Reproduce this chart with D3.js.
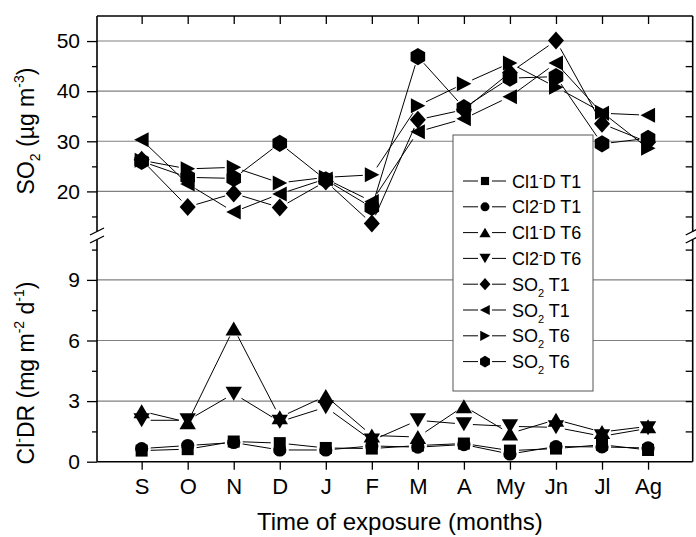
<!DOCTYPE html>
<html><head><meta charset="utf-8">
<script src="https://cdn.jsdelivr.net/npm/d3@7"></script>
<style>
body{margin:0;background:#fff;}
svg{display:block;font-family:"Liberation Sans",Arial,sans-serif;}
</style>
</head><body>
<svg id="c" width="696" height="537"></svg>
<script>
// ---------- data ----------
const months = ["S","O","N","D","J","F","M","A","My","Jn","Jl","Ag"];
// bottom panel: Cl- deposition rate (mg m-2 d-1)
const cl1T1 = [0.55,0.62,1.00,0.92,0.68,0.65,0.80,0.90,0.55,0.65,0.84,0.58];
const cl2T1 = [0.65,0.80,0.95,0.58,0.58,0.78,0.72,0.85,0.38,0.75,0.73,0.68];
const cl1T6 = [2.50,1.95,6.60,2.20,3.25,1.30,1.22,2.75,1.40,2.08,1.47,1.75];
const cl2T6 = [2.05,2.05,3.37,1.98,2.70,1.05,2.05,1.86,1.75,1.70,1.26,1.65];
// top panel: SO2 (ug m-3)
const so2T1a = [26.3,16.9,19.6,16.8,22.0,13.6,34.3,36.3,43.7,50.1,33.5,29.8];
const so2T1b = [30.3,21.5,15.9,19.5,22.5,18.0,31.9,34.5,38.9,45.6,35.6,35.2];
const so2T6a = [26.2,24.5,24.8,21.7,22.8,23.3,37.1,41.5,45.6,40.8,35.8,28.6];
const so2T6b = [26.0,22.8,22.6,29.6,22.3,16.8,46.9,36.7,42.6,42.9,29.5,30.6];
const topTicks = [20,30,40,50];
const topMinor = [15,25,35,45];
const botTicks = [0,3,6,9];
const botMinor = [1.5,4.5,7.5,10.5];

// ---------- layout ----------
const L = 97, R = 692.7, T = 16, B = 461.7;
const svg = d3.select("#c");
const x = d3.scalePoint().domain(months).range([L, R]).padding(0.97);
const yTop = d3.scaleLinear().domain([12, 55]).range([231.5, T]);
const yBot = d3.scaleLinear().domain([0, 11]).range([B, 239.5]);

const series = [
  {label:["Cl1","-","D T1"], type:"sup", vals:cl1T1, sym:"square", panel:"bot"},
  {label:["Cl2","-","D T1"], type:"sup", vals:cl2T1, sym:"circle", panel:"bot"},
  {label:["Cl1","-","D T6"], type:"sup", vals:cl1T6, sym:"up", panel:"bot"},
  {label:["Cl2","-","D T6"], type:"sup", vals:cl2T6, sym:"down", panel:"bot"},
  {label:["SO","2"," T1"], type:"sub", vals:so2T1a, sym:"diamond", panel:"top"},
  {label:["SO","2"," T1"], type:"sub", vals:so2T1b, sym:"left", panel:"top"},
  {label:["SO","2"," T6"], type:"sub", vals:so2T6a, sym:"right", panel:"top"},
  {label:["SO","2"," T6"], type:"sub", vals:so2T6b, sym:"hex", panel:"top"}
];

function symPath(sym, k){
  k = k || 1;
  const p = d3.path();
  const pts = (arr)=>{ arr.forEach((q,i)=> i? p.lineTo(q[0]*k,q[1]*k) : p.moveTo(q[0]*k,q[1]*k)); p.closePath(); };
  switch(sym){
    case "square": pts([[-6,-6],[6,-6],[6,6],[-6,6]]); break;
    case "circle": p.arc(0,0,6.6*k,0,2*Math.PI); break;
    case "up": pts([[0,-7],[8.2,7],[-8.2,7]]); break;
    case "down": pts([[-8.2,-7],[8.2,-7],[0,7]]); break;
    case "diamond": pts([[0,-9],[8,0],[0,9],[-8,0]]); break;
    case "left": pts([[-7.5,0],[7,-7.5],[7,7.5]]); break;
    case "right": pts([[7.5,0],[-7,-7.5],[-7,7.5]]); break;
    case "hex": { const r=8.6; const a=[]; for(let i=0;i<6;i++){const t=Math.PI/3*i - Math.PI/2; a.push([r*Math.cos(t)*0.98, r*Math.sin(t)]);} pts(a); break; }
  }
  return p.toString();
}

// ---------- gridlines ----------
const grid = svg.append("g").attr("stroke","#808080").attr("stroke-width",1.1);
topTicks.forEach(v=>grid.append("line").attr("x1",L).attr("x2",R).attr("y1",yTop(v)).attr("y2",yTop(v)));
botTicks.filter(v=>v>0).forEach(v=>grid.append("line").attr("x1",L).attr("x2",R).attr("y1",yBot(v)).attr("y2",yBot(v)));

// ---------- legend box ----------
const lg = {x:453, y:135, w:140, h:256};
svg.append("rect").attr("x",lg.x).attr("y",lg.y).attr("width",lg.w).attr("height",lg.h)
  .attr("fill","#fff").attr("stroke","#555").attr("stroke-width",1);

// ---------- data ----------
const gap = 9;
series.forEach(s=>{
  const y = s.panel==="top" ? yTop : yBot;
  const P = s.vals.map((v,i)=>[x(months[i]), y(v)]);
  const g = svg.append("g");
  for(let i=0;i<P.length-1;i++){
    const [x1,y1]=P[i],[x2,y2]=P[i+1];
    const dx=x2-x1, dy=y2-y1, d=Math.hypot(dx,dy);
    if(d<=2*gap) continue;
    const ux=dx/d, uy=dy/d;
    g.append("line").attr("x1",x1+ux*gap).attr("y1",y1+uy*gap).attr("x2",x2-ux*gap).attr("y2",y2-uy*gap)
      .attr("stroke","#000").attr("stroke-width",1);
  }
  s.pts = P;
});
series.forEach(s=>{
  svg.append("g").selectAll("path").data(s.pts).join("path")
    .attr("transform",d=>`translate(${d[0]},${d[1]})`)
    .attr("d",symPath(s.sym)).attr("fill","#000");
});

// ---------- legend entries ----------
series.forEach((s,i)=>{
  const cy = 181 + i*25.8;
  const g = svg.append("g");
  g.append("line").attr("x1",463).attr("x2",478).attr("y1",cy).attr("y2",cy).attr("stroke","#000");
  g.append("line").attr("x1",492).attr("x2",506).attr("y1",cy).attr("y2",cy).attr("stroke","#000");
  g.append("path").attr("transform",`translate(485,${cy})`).attr("d",symPath(s.sym,0.68)).attr("fill","#000");
  const t = g.append("text").attr("x",512).attr("y",cy+6.5).attr("font-size",18).attr("fill","#000");
  t.append("tspan").text(s.label[0]);
  if(s.type==="sup"){
    t.append("tspan").attr("dy",-7).attr("font-size",11).text(s.label[1]);
    t.append("tspan").attr("dy",7).text(s.label[2]);
  } else {
    t.append("tspan").attr("dy",6).attr("font-size",11).text(s.label[1]);
    t.append("tspan").attr("dy",-6).text(s.label[2]);
  }
});

// ---------- frame & axes ----------
const frame = svg.append("g").attr("stroke","#000").attr("stroke-width",1.6).attr("fill","none");
frame.append("line").attr("x1",L).attr("x2",R).attr("y1",T).attr("y2",T);
frame.append("line").attr("x1",L).attr("x2",R).attr("y1",B).attr("y2",B);
[L,R].forEach(xx=>{
  frame.append("line").attr("x1",xx).attr("x2",xx).attr("y1",T).attr("y2",yTop.range()[0]);
  frame.append("line").attr("x1",xx).attr("x2",xx).attr("y1",yBot.range()[1]).attr("y2",B);
  [yTop.range()[0], yBot.range()[1]].forEach(yc=>{
    frame.append("line").attr("x1",xx-7).attr("y1",yc+3.5).attr("x2",xx+7).attr("y2",yc-3.5).attr("stroke-width",1.3);
  });
});

function styleAxis(g){ g.select(".domain").remove(); g.selectAll(".tick line").attr("stroke","#000").attr("stroke-width",1.3); g.selectAll("text").attr("fill","#000"); }
const FF = "Liberation Sans, Arial, sans-serif";

// left axis (outward)
svg.append("g").attr("transform",`translate(${L},0)`)
  .call(d3.axisLeft(yTop).tickValues(topTicks).tickSize(10).tickPadding(7))
  .call(styleAxis).selectAll("text").attr("font-size",21).attr("font-family",FF);
svg.append("g").attr("transform",`translate(${L},0)`)
  .call(d3.axisLeft(yTop).tickValues(topMinor).tickSize(5).tickFormat(""))
  .call(styleAxis);
svg.append("g").attr("transform",`translate(${L},0)`)
  .call(d3.axisLeft(yBot).tickValues(botTicks).tickSize(10).tickPadding(7))
  .call(styleAxis).selectAll("text").attr("font-size",21).attr("font-family",FF);
svg.append("g").attr("transform",`translate(${L},0)`)
  .call(d3.axisLeft(yBot).tickValues(botMinor).tickSize(5).tickFormat(""))
  .call(styleAxis);
// right axis (inward)
svg.append("g").attr("transform",`translate(${R},0)`)
  .call(d3.axisLeft(yTop).tickValues(topTicks.concat(topMinor)).tickSizeInner(7).tickSizeOuter(0).tickFormat(""))
  .call(styleAxis);
svg.append("g").attr("transform",`translate(${R},0)`)
  .call(d3.axisLeft(yBot).tickValues(botTicks.concat(botMinor).filter(v=>v>0)).tickSizeInner(7).tickSizeOuter(0).tickFormat(""))
  .call(styleAxis);
// bottom axis (outward)
svg.append("g").attr("transform",`translate(0,${B})`)
  .call(d3.axisBottom(x).tickSize(8).tickPadding(9))
  .call(styleAxis).selectAll("text").attr("font-size",22).attr("font-family",FF);
// top axis ticks (inward)
svg.append("g").attr("transform",`translate(0,${T})`)
  .call(d3.axisBottom(x).tickSize(8).tickFormat(""))
  .call(styleAxis);

// ---------- titles ----------
svg.append("text").attr("x",(L+R)/2 + 5).attr("y",530).attr("text-anchor","middle").attr("font-size",24).text("Time of exposure (months)");

const t1 = svg.append("text").attr("transform","translate(34,131) rotate(-90)").attr("text-anchor","middle").attr("font-size",23);
t1.append("tspan").text("SO");
t1.append("tspan").attr("dy",6).attr("font-size",14).text("2");
t1.append("tspan").attr("dy",-6).text(" (µg m");
t1.append("tspan").attr("dy",-10).attr("font-size",14).text("-3");
t1.append("tspan").attr("dy",10).text(")");

const t2 = svg.append("text").attr("transform","translate(34,373) rotate(-90)").attr("text-anchor","middle").attr("font-size",23);
t2.append("tspan").text("Cl");
t2.append("tspan").attr("dy",-10).attr("font-size",14).text("-");
t2.append("tspan").attr("dy",10).text("DR (mg m");
t2.append("tspan").attr("dy",-10).attr("font-size",14).text("-2");
t2.append("tspan").attr("dy",10).text(" d");
t2.append("tspan").attr("dy",-10).attr("font-size",14).text("-1");
t2.append("tspan").attr("dy",10).text(")");
</script>
</body></html>
